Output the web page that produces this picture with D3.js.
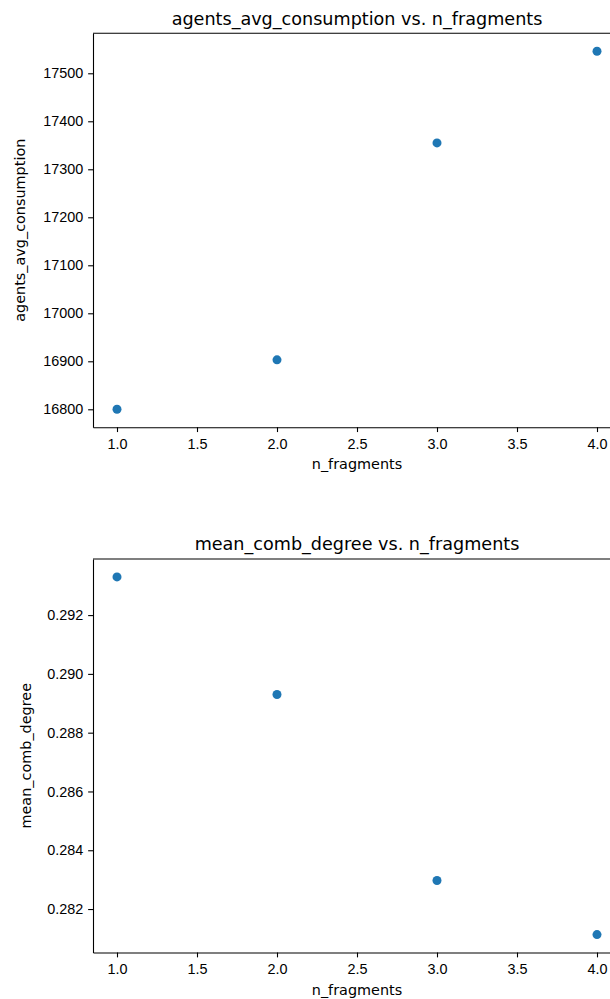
<!DOCTYPE html>
<html>
<head>
<meta charset="utf-8">
<script src="https://cdn.jsdelivr.net/npm/d3@7"></script>
<style>
  html, body { margin: 0; padding: 0; background: #fff; }
  svg { display: block; font-family: "DejaVu Sans", sans-serif; }
  .tick text { font-size: 14.4px; fill: #000; }
  .domain { stroke: #000; stroke-width: 1.1px; }
  .tick line { stroke: #000; stroke-width: 1.1px; }
</style>
</head>
<body>
<svg id="chart" width="610" height="999"></svg>
<script>
// Shared x values
const nFragments = [1, 2, 3, 4];

// Series
const agentsAvgConsumption = [16800, 16903, 17355, 17546];
const meanCombDegree = [0.29330, 0.28930, 0.28297, 0.28113];

// Tick labels
const xTicks = [1.0, 1.5, 2.0, 2.5, 3.0, 3.5, 4.0];
const consumptionTicks = [16800, 16900, 17000, 17100, 17200, 17300, 17400, 17500];
const degreeTicks = [0.282, 0.284, 0.286, 0.288, 0.290, 0.292];

const svg = d3.select("#chart");
const fontSize = 14.4;
const tickLen = 4.86;
const tickPad = 4.86;
const pointColor = "#1f77b4";

// matplotlib-style 5% data margins
function padded(values) {
  const [lo, hi] = d3.extent(values);
  const m = (hi - lo) * 0.05;
  return [lo - m, hi + m];
}

function drawPanel(cfg) {
  const left = 93, right = 621;
  const g = svg.append("g");

  const x = d3.scaleLinear().domain(padded(nFragments)).range([left, right]);
  const y = d3.scaleLinear().domain(padded(cfg.values)).range([cfg.bottom, cfg.top]);

  // top spine (the right one falls outside the canvas)
  g.append("line").attr("x1", left).attr("x2", right).attr("y1", cfg.top).attr("y2", cfg.top)
    .attr("stroke", "#000").attr("stroke-width", 1.1);

  const xAxis = d3.axisBottom(x).tickValues(xTicks).tickFormat(d3.format(".1f"))
    .tickSizeInner(tickLen).tickSizeOuter(0).tickPadding(tickPad + 2);
  g.append("g").attr("transform", `translate(0,${cfg.bottom})`).call(xAxis);

  const yAxis = d3.axisLeft(y).tickValues(cfg.ticks).tickFormat(cfg.fmt)
    .tickSizeInner(tickLen).tickSizeOuter(0).tickPadding(tickPad);
  g.append("g").attr("transform", `translate(${left},0)`).call(yAxis);

  // scatter points
  g.append("g").selectAll("circle")
    .data(nFragments.map((d, i) => [d, cfg.values[i]]))
    .join("circle")
    .attr("cx", d => x(d[0]))
    .attr("cy", d => y(d[1]))
    .attr("r", 4.5)
    .attr("fill", pointColor);

  const cx = (left + right) / 2;

  // title
  g.append("text")
    .attr("x", cx).attr("y", cfg.top - 8.8)
    .attr("text-anchor", "middle")
    .attr("font-size", 17.6)
    .attr("fill", "#000")
    .text(cfg.title);

  // x label
  g.append("text")
    .attr("x", cx).attr("y", cfg.bottom + 42)
    .attr("text-anchor", "middle")
    .attr("font-size", fontSize)
    .attr("fill", "#000")
    .text("n_fragments");

  // y label
  const midY = (cfg.top + cfg.bottom) / 2;
  g.append("text")
    .attr("transform", `translate(${cfg.ylabelX},${midY}) rotate(-90)`)
    .attr("text-anchor", "middle")
    .attr("font-size", fontSize)
    .attr("fill", "#000")
    .text(cfg.ylabel);
}

drawPanel({
  values: agentsAvgConsumption,
  ticks: consumptionTicks,
  fmt: d3.format("d"),
  top: 33.3, bottom: 427.2,
  title: "agents_avg_consumption vs. n_fragments",
  ylabel: "agents_avg_consumption",
  ylabelX: 24.5
});

drawPanel({
  values: meanCombDegree,
  ticks: degreeTicks,
  fmt: d3.format(".3f"),
  top: 559, bottom: 952.5,
  title: "mean_comb_degree vs. n_fragments",
  ylabel: "mean_comb_degree",
  ylabelX: 30.5
});
</script>
</body>
</html>
